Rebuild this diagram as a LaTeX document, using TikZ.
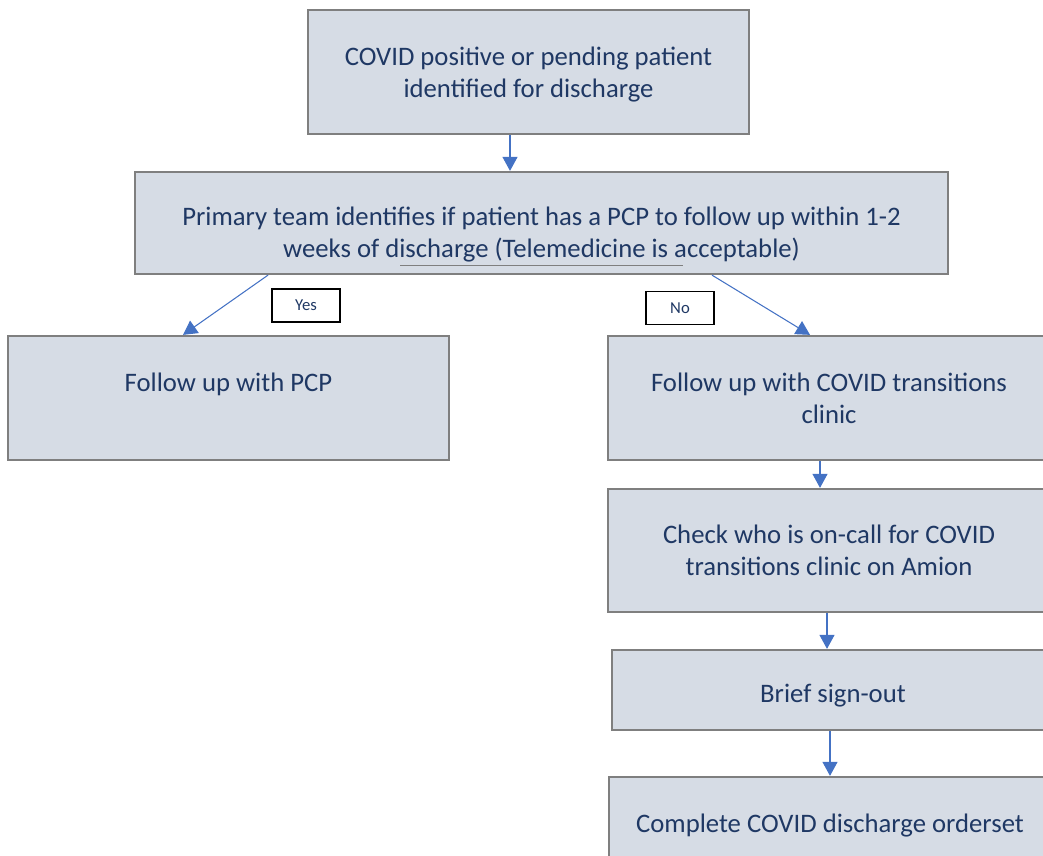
\documentclass[tikz,border=0pt]{standalone}
\usepackage{fontspec}
\setmainfont{Carlito}
\usetikzlibrary{arrows.meta}
\usetikzlibrary{calc}
\definecolor{boxfill}{HTML}{D6DCE5}
\definecolor{boxline}{HTML}{7F7F7F}
\definecolor{boxtext}{HTML}{1F3864}
\definecolor{arrowblue}{HTML}{4472C4}

\begin{document}
\begin{tikzpicture}[x=0.02cm,y=-0.02cm,
  stepbox/.style={rectangle,draw=boxline,fill=boxfill,line width=1.3pt,text=boxtext,align=center,font=\fontsize{15.2}{18.2}\selectfont,minimum width=8.82cm,minimum height=2.48cm,inner sep=0pt},
  answer/.style={rectangle,draw=black,fill=white,line width=0.8pt,text=boxtext,font=\fontsize{9.5}{11}\selectfont,minimum width=1.36cm,minimum height=0.66cm,inner sep=0pt},
  flow/.style={draw=arrowblue,line width=0.6pt,-{Triangle[width=0.3cm,length=0.28cm]}}]
\useasboundingbox (0,0) rectangle (1043,855);
\clip (0,0) rectangle (1043,855);
\draw (528.5,72) node (start) [stepbox] {\rule{0pt}{13pt}COVID positive or pending patient\\identified for discharge};
\draw (541.5,223) node (pcpcheck) [stepbox,minimum width=16.26cm,minimum height=2.04cm] {\rule{0pt}{24pt}Primary team identifies if patient has a PCP to follow up within 1-2\\weeks of discharge (Telemedicine is acceptable)};
\draw[boxline,line width=0.5pt] ($(pcpcheck.south)+(-141.5,-10)$) -- ++(283,0);
\draw (228.5,398) node (pcp) [stepbox] {Follow up with PCP\\ \phantom{P}};
\draw (829,398) node (transit) [stepbox,minimum width=8.84cm] {Follow up with COVID transitions\\clinic};
\draw (829,550.5) node (check) [stepbox,minimum width=8.84cm,minimum height=2.46cm] {Check who is on-call for COVID\\transitions clinic on Amion};
\draw (833,690) node (brief) [stepbox,minimum width=8.84cm,minimum height=1.6cm] {\rule{0pt}{17pt}Brief sign-out};
\draw (830,839) node (order) [stepbox,minimum width=8.84cm] {Complete COVID discharge orderset\\ \phantom{P}};
\draw (306,305.5) node (yes) [answer] {Yes};
\draw (680,308) node (no) [answer] {No};
% arrows
\coordinate (a1) at ($(start.south)+(-18.5,0)$);
\draw[flow] (a1) -- (a1 |- pcpcheck.north);
\draw[flow] ($(pcpcheck.south)+(-273.5,0)$) -- ($(pcp.north)+(-45.5,0)$);
\draw[flow] ($(pcpcheck.south)+(170.5,0)$) -- ($(transit.north)+(-19,0)$);
\coordinate (a2) at ($(transit.south)+(-9,0)$);
\draw[flow] (a2) -- (a2 |- check.north);
\coordinate (a3) at ($(check.south)+(-2,0)$);
\draw[flow] (a3) -- (a3 |- brief.north);
\coordinate (a4) at ($(brief.south)+(-3,0)$);
\draw[flow] (a4) -- (a4 |- order.north);
\end{tikzpicture}
\end{document}
